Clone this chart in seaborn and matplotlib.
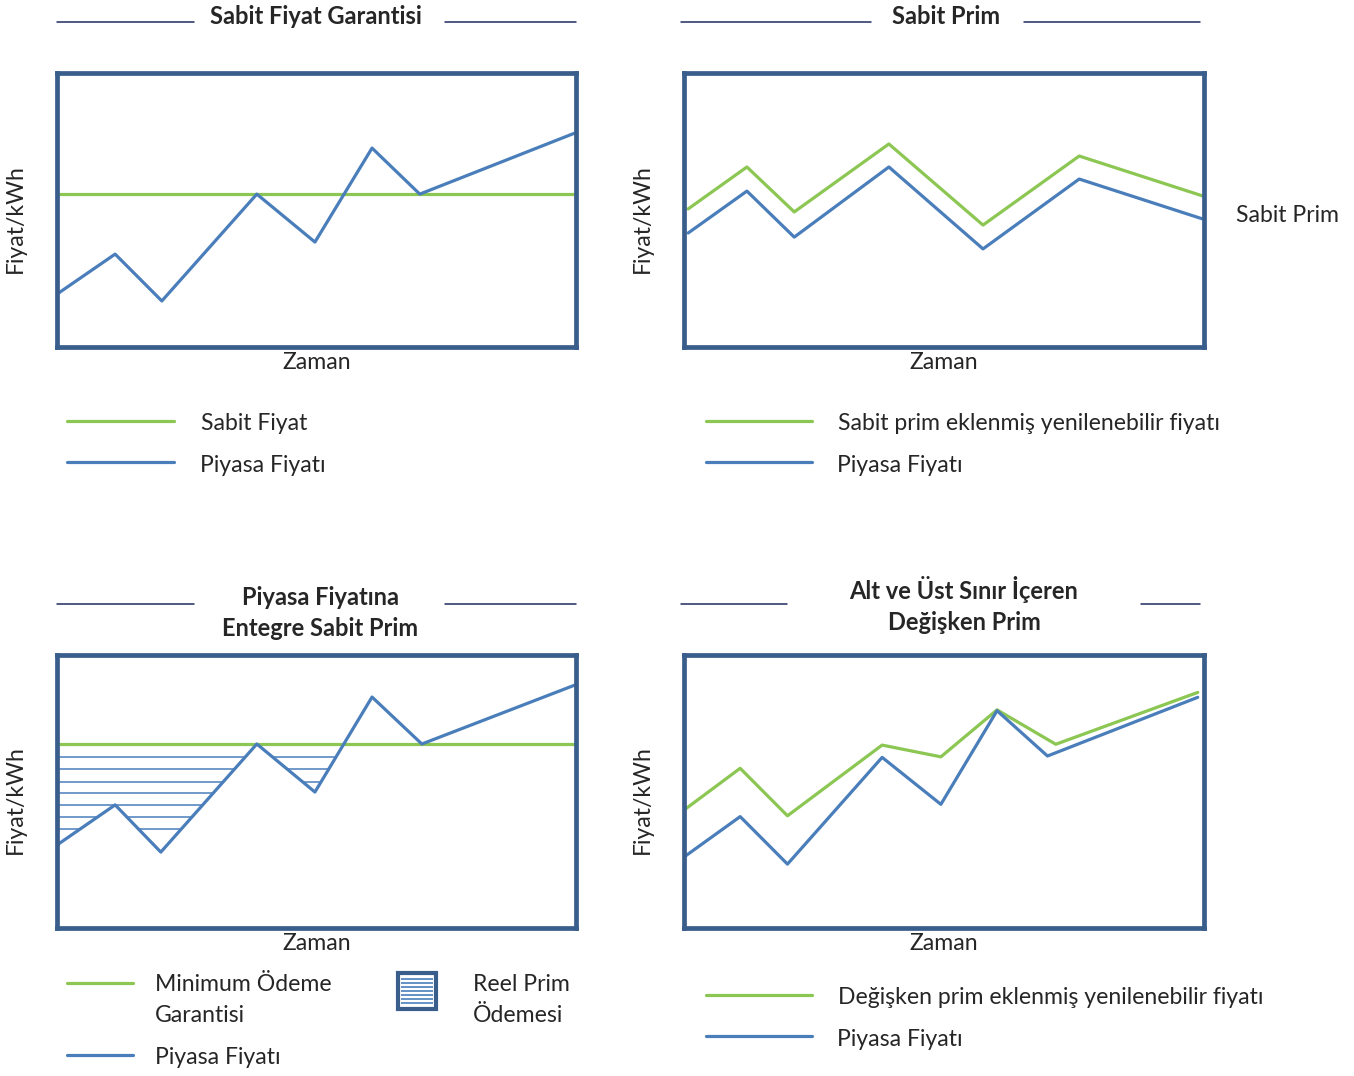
import matplotlib
matplotlib.use("Agg")
import matplotlib.pyplot as plt
import seaborn as sns
import numpy as np
from matplotlib.path import Path
from matplotlib.patches import Rectangle

# ---------------- data (abstract units 0-100 inside each box) ----------------
p1_x = [0, 11.2, 20.2, 38.5, 49.7, 60.7, 69.9, 99.8]
p1_market = [19.3, 33.9, 16.8, 55.8, 38.3, 72.6, 55.8, 78.1]
p1_fixed_x = [0, 100]
p1_fixed = [55.8, 55.8]

p2_x = [0.8, 12.1, 21.2, 39.4, 57.5, 76.0, 99.8]
p2_market = [41.6, 56.9, 40.1, 65.7, 35.8, 61.3, 46.7]
p2_premium = [50.4, 65.7, 49.3, 74.1, 44.5, 69.7, 55.1]

p3_x = [0, 11.2, 20.0, 38.5, 49.7, 60.7, 70.3, 99.8]
p3_market = [30.4, 45.1, 27.8, 67.4, 49.8, 84.6, 67.4, 89.0]
p3_min_x = [0, 100]
p3_min = [67.4, 67.4]
p3_hatch_levels = [62.5, 58.1, 53.6, 49.5, 44.9, 40.6, 36.1]

p4_market_x = [0, 10.8, 19.9, 38.1, 49.4, 60.2, 69.9, 98.8]
p4_market = [26.0, 40.8, 23.4, 62.5, 45.3, 79.6, 63.0, 84.5]
p4_var_x = [0, 10.8, 19.9, 38.1, 49.4, 60.2, 71.5, 98.8]
p4_var = [43.2, 58.5, 41.1, 67.0, 62.7, 79.9, 67.3, 86.3]

titles = ["Sabit Fiyat Garantisi", "Sabit Prim",
          "Piyasa Fiyatına\nEntegre Sabit Prim",
          "Alt ve Üst Sınır İçeren\nDeğişken Prim"]
ylabel = "Fiyat/kWh"
xlabel = "Zaman"

# ---------------- style ----------------
sns.set_style("white")
plt.rcParams["font.family"] = ["Lato", "DejaVu Sans"]

BLUE = "#4A7EBB"
GREEN = "#8CC653"
BOX = "#3A5E8C"
RULE = "#1F2B5E"
TXT = "#262626"
FS = 16.6
TFS = 17

W, H = 1354, 1076
fig = plt.figure(figsize=(W / 100, H / 100), dpi=100)
fig.patch.set_facecolor("white")

def box_axes(x0, y0, x1, y1):
    ax = fig.add_axes([x0 / W, 1 - y1 / H, (x1 - x0) / W, (y1 - y0) / H])
    ax.set_xlim(0, 100)
    ax.set_ylim(0, 100)
    ax.set_xticks([])
    ax.set_yticks([])
    for s in ax.spines.values():
        s.set_visible(True)
        s.set_color(BOX)
        s.set_linewidth(3.4)
    ax.set_xlabel(xlabel, fontsize=FS, color=TXT)
    ax.set_ylabel(ylabel, fontsize=FS, color=TXT)
    ax.xaxis.set_label_coords(0.5, -(15 / (y1 - y0)))
    ax.xaxis.label.set_va("center")
    ax.yaxis.set_label_coords(-(42 / (x1 - x0)), 0.47)
    ax.yaxis.label.set_va("center")
    return ax

LW = 2.3
ax1 = box_axes(57, 73, 576, 347)
sns.lineplot(x=p1_fixed_x, y=p1_fixed, ax=ax1, color=GREEN, linewidth=LW)
sns.lineplot(x=p1_x, y=p1_market, ax=ax1, color=BLUE, linewidth=LW)

ax2 = box_axes(684, 73, 1204, 347)
sns.lineplot(x=p2_x, y=p2_premium, ax=ax2, color=GREEN, linewidth=LW)
sns.lineplot(x=p2_x, y=p2_market, ax=ax2, color=BLUE, linewidth=LW)

ax3 = box_axes(57, 655, 576, 928)
fb = ax3.fill_between(p3_x, p3_market, p3_min[0],
                      where=np.array(p3_market) <= p3_min[0],
                      interpolate=True, color="none", linewidth=0)
clip = Path.make_compound_path(*fb.get_paths())
hl = ax3.hlines(p3_hatch_levels, 0, 100, colors=BLUE, linewidth=1.1)
hl.set_clip_path(clip, ax3.transData)
sns.lineplot(x=p3_min_x, y=p3_min, ax=ax3, color=GREEN, linewidth=LW)
sns.lineplot(x=p3_x, y=p3_market, ax=ax3, color=BLUE, linewidth=LW)

ax4 = box_axes(684, 655, 1204, 928)
sns.lineplot(x=p4_var_x, y=p4_var, ax=ax4, color=GREEN, linewidth=LW)
sns.lineplot(x=p4_market_x, y=p4_market, ax=ax4, color=BLUE, linewidth=LW)

# ---------------- decorations (titles, legends) in pixel space ----------------
deco = fig.add_axes([0, 0, 1, 1], zorder=5)
deco.set_xlim(0, W)
deco.set_ylim(H, 0)
deco.axis("off")
deco.patch.set_alpha(0)

def rule(x0, x1, y):
    deco.plot([x0, x1], [y, y], color=RULE, linewidth=1.1)

def title(txt, x, y):
    deco.text(x, y, txt, ha="center", va="center", fontsize=TFS,
              fontweight="bold", color=TXT, linespacing=1.4)

title(titles[0], 316, 16); rule(57, 194, 22); rule(445, 576, 22)
title(titles[1], 946, 16); rule(681, 871, 22); rule(1024, 1200, 22)
title(titles[2], 320, 613); rule(57, 194, 604); rule(445, 576, 604)
title(titles[3], 964, 605); rule(681, 787, 604); rule(1141, 1200, 604)

deco.text(1236, 215, "Sabit Prim", ha="left", va="center", fontsize=FS, color=TXT)

def leg(x0, x1, y, color, txt, tx, ty):
    deco.plot([x0, x1], [y, y], color=color, linewidth=2.3)
    deco.text(tx, ty, txt, ha="left", va="center", fontsize=FS, color=TXT,
              linespacing=1.58)

leg(67, 174, 421, GREEN, "Sabit Fiyat", 201, 423)
leg(67, 174, 462, BLUE, "Piyasa Fiyatı", 200, 465)
leg(706, 812, 421, GREEN, "Sabit prim eklenmiş yenilenebilir fiyatı", 838, 423)
leg(706, 812, 462, BLUE, "Piyasa Fiyatı", 837, 465)

leg(67, 133, 983, GREEN, "Minimum Ödeme\nGarantisi", 155, 1000)
leg(67, 133, 1055, BLUE, "Piyasa Fiyatı", 155, 1058)
deco.add_patch(Rectangle((398, 973), 38, 36, facecolor="white",
                         edgecolor=BOX, linewidth=3))
deco.hlines(np.linspace(979, 1003, 7), 401, 433, colors=BLUE, linewidth=1.2)
deco.text(473, 1000, "Reel Prim\nÖdemesi", ha="left", va="center",
          fontsize=FS, color=TXT, linespacing=1.58)

leg(706, 812, 995, GREEN, "Değişken prim eklenmiş yenilenebilir fiyatı", 838, 997)
leg(706, 812, 1036, BLUE, "Piyasa Fiyatı", 837, 1039)

fig.savefig("out.png", dpi=100, facecolor="white")
